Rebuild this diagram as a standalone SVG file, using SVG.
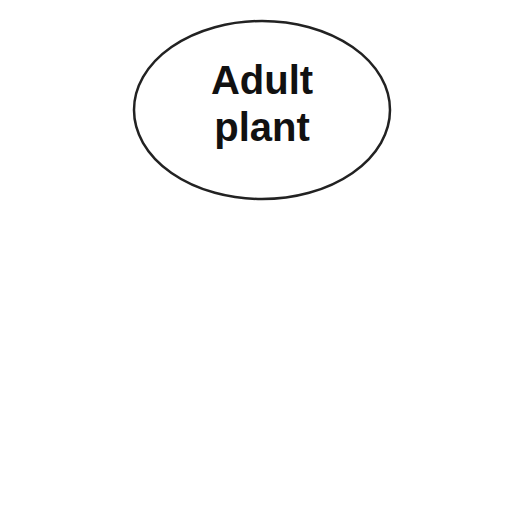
<svg xmlns="http://www.w3.org/2000/svg" width="512" height="512" viewBox="0 0 512 512">
<style>
.node{fill:#fff;stroke:#222;stroke-width:2.5}
.lbl{font-family:"Liberation Sans",Arial,sans-serif;font-weight:bold;font-size:40px;fill:#111;text-anchor:middle}
</style>
<rect width="512" height="512" fill="#fff"/>
<g id="connectors"></g>
<g id="adult-plant">
<ellipse class="node" cx="262" cy="110" rx="128" ry="89"/>
<text class="lbl" x="262" y="94">Adult</text>
<text class="lbl" x="262" y="141">plant</text>
</g>
</svg>
